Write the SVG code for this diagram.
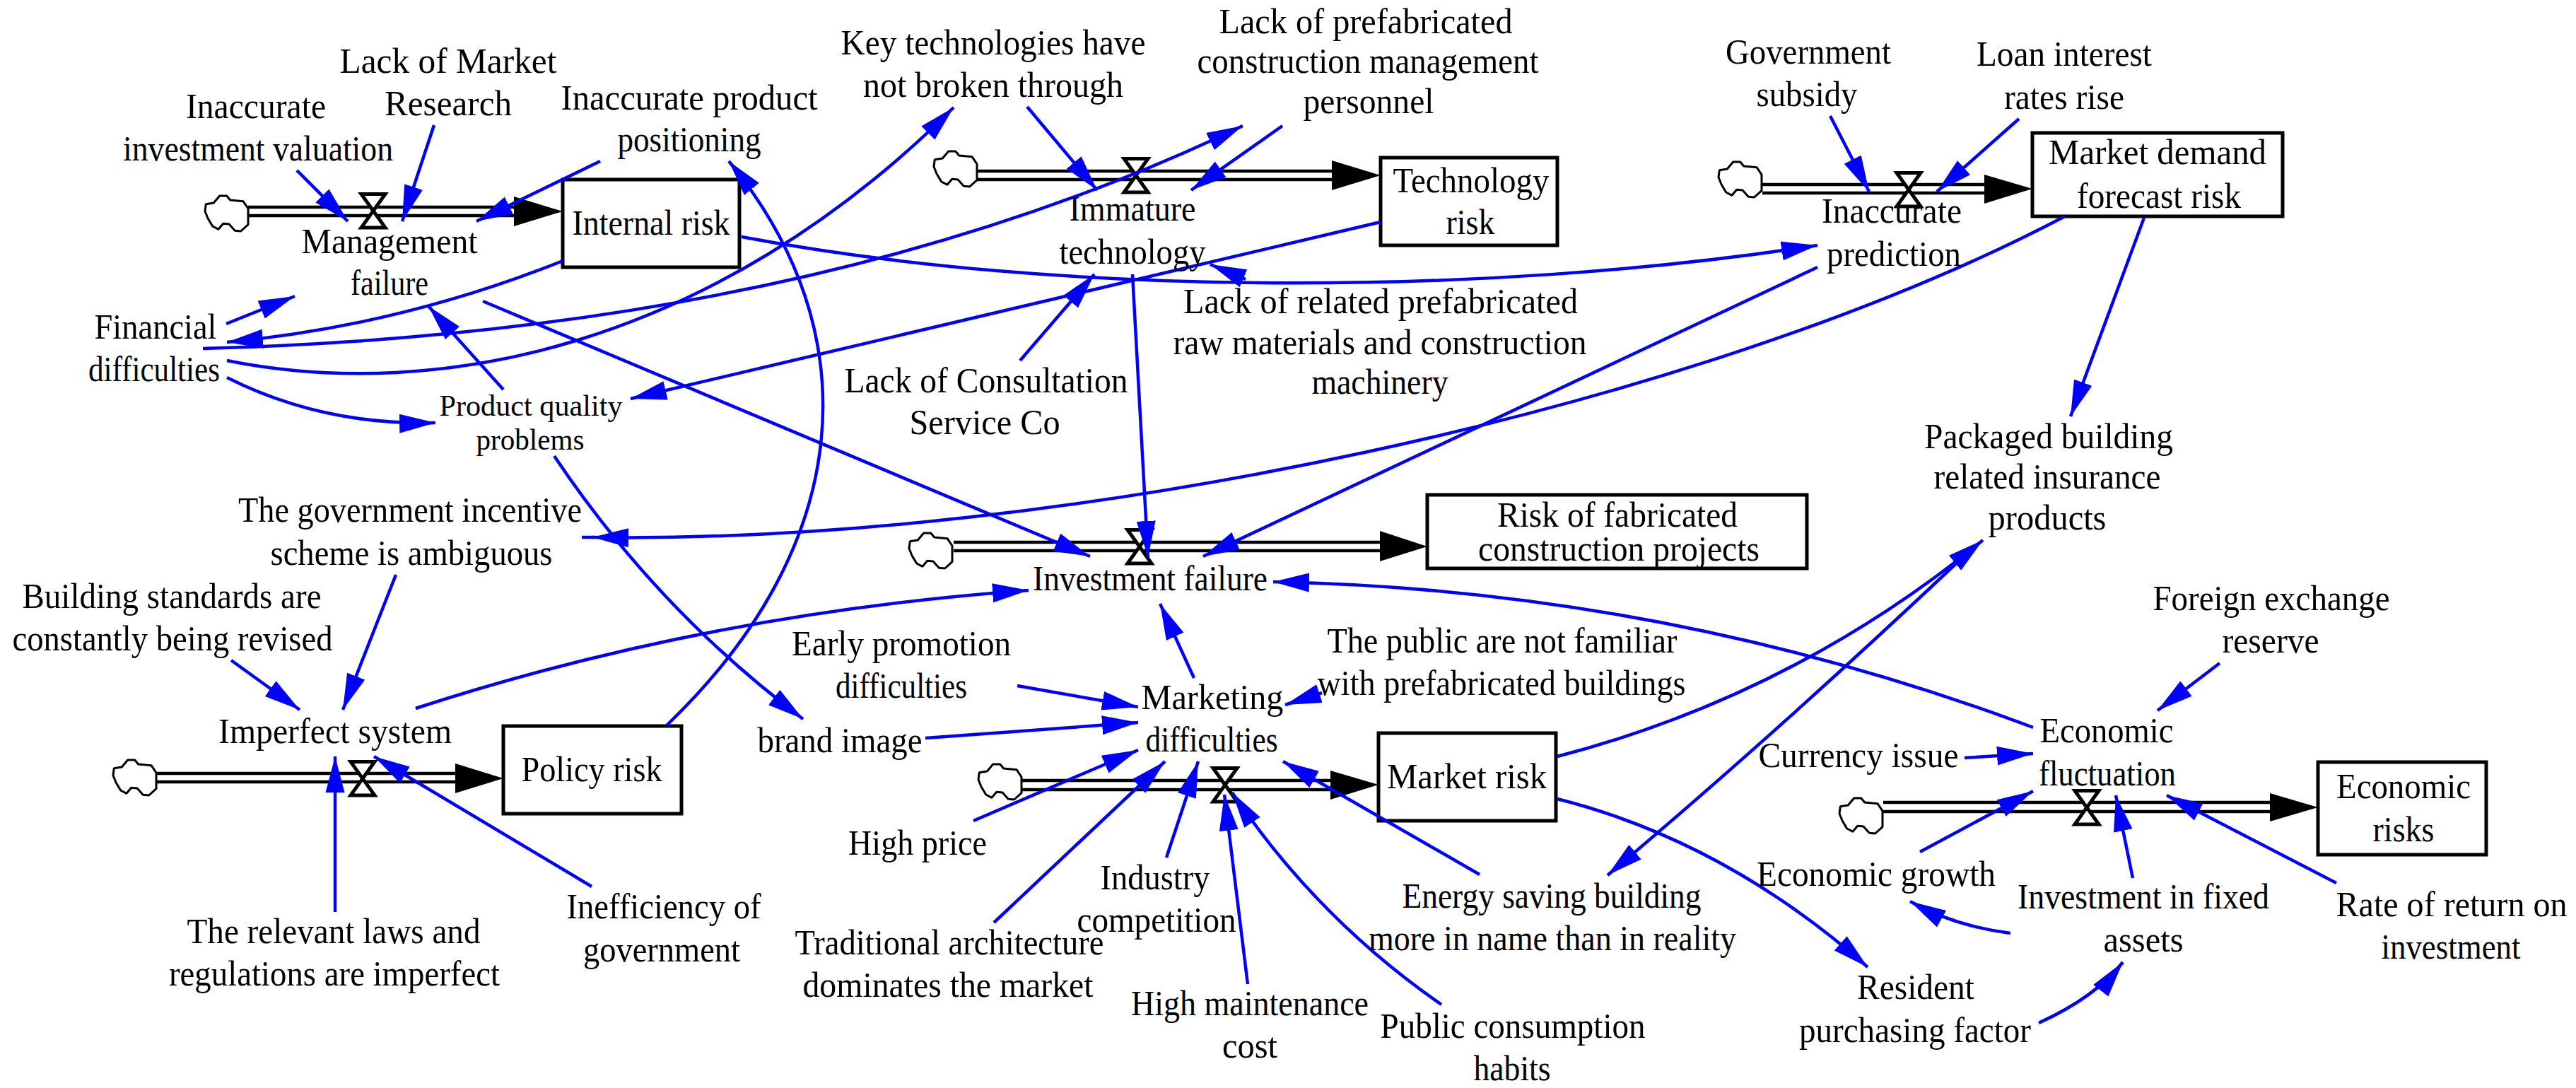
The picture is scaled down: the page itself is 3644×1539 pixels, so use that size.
<svg xmlns="http://www.w3.org/2000/svg" width="3644" height="1539" viewBox="0 0 3644 1539">
<style>
text{font-family:"Liberation Serif","Times New Roman",serif;font-size:50px;fill:#000;text-anchor:middle}
.sm{font-size:42px}
.box{fill:#fff;stroke:#000;stroke-width:5}
.pipe{fill:none;stroke:#000;stroke-width:4.5}
.cloud{fill:#fff;stroke:#000;stroke-width:3;stroke-linejoin:bevel}
.valve{fill:#fff;stroke:#000;stroke-width:5}
.c{fill:none;stroke:#0000ff;stroke-width:4.5;marker-end:url(#ah)}
.s{fill:none;stroke:#0000ff;stroke-width:4.5}
</style>
<defs>
<marker id="ah" markerUnits="userSpaceOnUse" markerWidth="52" markerHeight="30" refX="51" refY="15" orient="auto" viewBox="0 0 52 30"><path d="M0,1.5 L51,15 L0,28.5 Z" fill="#0000ff"/></marker>
<path id="cl" d="M20.7,0 L30.7,0 L35.7,6 L54,7.7 L61,18 L61,40.7 L50.7,50 L42.3,49.3 L34,40 L25.7,39.3 L19,47.3 L10.7,43 L4,31.7 L0,21.7 L1.3,11.7 L12.3,10 Z"/>
<path id="vl" d="M3,2.5 L37,2.5 L3,50 L37,50 Z"/>
</defs>
<rect width="3644" height="1539" fill="#fff"/>

<g id="flows">
<g id="flow-internal"><use href="#cl" class="cloud" x="290" y="277"/><path class="pipe" d="M351,293H730M351,305H730"/><use href="#vl" class="valve" x="508" y="272"/><path d="M727,278L796,299L727,320Z"/></g>
<g id="flow-technology"><use href="#cl" class="cloud" x="1321" y="214"/><path class="pipe" d="M1382,242H1888M1382,254H1888"/><use href="#vl" class="valve" x="1587" y="222"/><path d="M1884,227L1953,248L1884,269Z"/></g>
<g id="flow-demand"><use href="#cl" class="cloud" x="2431" y="229"/><path class="pipe" d="M2493,261H2810M2493,273H2810"/><use href="#vl" class="valve" x="2680" y="242"/><path d="M2807,247L2875,267L2807,288Z"/></g>
<g id="flow-project"><use href="#cl" class="cloud" x="1286" y="754"/><path class="pipe" d="M1349,767H1955M1349,779H1955"/><use href="#vl" class="valve" x="1592" y="747"/><path d="M1952,751L2019,773L1952,794Z"/></g>
<g id="flow-policy"><use href="#cl" class="cloud" x="160" y="1075"/><path class="pipe" d="M222,1094H648M222,1106H648"/><use href="#vl" class="valve" x="493" y="1075"/><path d="M644,1080L712,1101L644,1122Z"/></g>
<g id="flow-market"><use href="#cl" class="cloud" x="1384" y="1081"/><path class="pipe" d="M1446,1104H1885M1446,1117H1885"/><use href="#vl" class="valve" x="1713" y="1084"/><path d="M1882,1090L1950,1110L1882,1131Z"/></g>
<g id="flow-economic"><use href="#cl" class="cloud" x="2602" y="1129"/><path class="pipe" d="M2664,1135H3215M2664,1148H3215"/><use href="#vl" class="valve" x="2932" y="1116"/><path d="M3211,1122L3279,1142L3211,1162Z"/></g>
</g>

<g id="stocks">
<g id="internal-risk"><rect class="box" x="796" y="254" width="250" height="124"/></g>
<g id="technology-risk"><rect class="box" x="1953" y="223" width="250" height="124"/></g>
<g id="demand-risk"><rect class="box" x="2875" y="188" width="354" height="118"/></g>
<g id="project-risk"><rect class="box" x="2019" y="700" width="537" height="104"/></g>
<g id="policy-risk"><rect class="box" x="712" y="1027" width="252" height="124"/></g>
<g id="market-risk"><rect class="box" x="1950" y="1037" width="251" height="124"/></g>
<g id="economic-risk"><rect class="box" x="3279" y="1078" width="238" height="131"/></g>
</g>

<g id="connectors">
<path class="c" d="M420,241L492,313"/>
<path class="c" d="M614,177L569,313"/>
<path class="c" d="M849,228L674,313"/>
<path class="c" d="M796,369Q566,461 321,484"/>
<path class="c" d="M287,493Q1150,470 1758,178"/>
<path class="c" d="M321,510C620,570 1010,490 1349,152"/>
<path class="c" d="M320,458L417,419"/>
<path class="c" d="M321,534Q456,602 616,598"/>
<path class="c" d="M712,551L606,433"/>
<path class="c" d="M683,426L1542,787"/>
<path class="c" d="M784,645Q930,863 1136,1017"/>
<path class="c" d="M943,1026C1210,770 1230,470 1031,228"/>
<path class="c" d="M1049,335C1500,420 2100,420 2571,347"/>
<path class="c" d="M1953,314L892,564"/>
<path class="c" d="M1602,388L1624,788"/>
<path class="c" d="M1453,151L1552,269"/>
<path class="c" d="M1814,178L1685,269"/>
<path class="c" d="M1762,395L1712,374"/>
<path class="c" d="M1443,510L1548,388"/>
<path class="c" d="M2589,164L2644,271"/>
<path class="c" d="M2856,168L2740,271"/>
<path class="c" d="M2921,306C2400,580 1500,770 838,760"/>
<path class="s" d="M840,760H823"/>
<path class="c" d="M3033,308L2929,589"/>
<path class="c" d="M2571,378L1702,787"/>
<path class="c" d="M588,1002Q1000,868 1455,835"/>
<path class="c" d="M327,934L424,1004"/>
<path class="c" d="M560,813L485,1004"/>
<path class="c" d="M474,1290L474,1070"/>
<path class="c" d="M837,1254L529,1070"/>
<path class="c" d="M1689,959L1641,854"/>
<path class="c" d="M1439,970L1610,1000"/>
<path class="c" d="M1309,1044L1610,1022"/>
<path class="c" d="M1377,1161L1610,1061"/>
<path class="c" d="M1406,1305L1648,1077"/>
<path class="c" d="M1650,1213L1695,1077"/>
<path class="c" d="M1765,1392L1732,1124"/>
<path class="c" d="M2039,1421Q1863,1299 1743,1121"/>
<path class="c" d="M1870,980L1818,997"/>
<path class="c" d="M2093,1237L1815,1077"/>
<path class="c" d="M2203,1070Q2537,983 2805,764"/>
<path class="c" d="M2780,785Q2510,1040 2274,1238"/>
<path class="c" d="M2203,1130Q2440,1190 2642,1368"/>
<path class="c" d="M2779,1072L2876,1066"/>
<path class="c" d="M3140,938L3052,1005"/>
<path class="c" d="M2876,1029Q2356,834 1801,823"/>
<path class="c" d="M2716,1205L2876,1119"/>
<path class="c" d="M3017,1242L2993,1125"/>
<path class="c" d="M3305,1249L3065,1125"/>
<path class="c" d="M2844,1320Q2765,1310 2702,1275"/>
<path class="c" d="M2884,1447Q2965,1410 3003,1361"/>
</g>

<g id="labels">
<g id="n-lack-market"><text x="634" y="103" textLength="307" lengthAdjust="spacingAndGlyphs">Lack of Market</text><text x="634" y="163" textLength="180" lengthAdjust="spacingAndGlyphs">Research</text></g>
<g id="n-inv-val"><text x="362" y="167" textLength="198" lengthAdjust="spacingAndGlyphs">Inaccurate</text><text x="365" y="227" textLength="382" lengthAdjust="spacingAndGlyphs">investment valuation</text></g>
<g id="n-positioning"><text x="975" y="155" textLength="363" lengthAdjust="spacingAndGlyphs">Inaccurate product</text><text x="975" y="214" textLength="203" lengthAdjust="spacingAndGlyphs">positioning</text></g>
<g id="n-internal"><text x="921" y="332" textLength="223" lengthAdjust="spacingAndGlyphs">Internal risk</text></g>
<g id="n-management"><text x="551" y="358" textLength="249" lengthAdjust="spacingAndGlyphs">Management</text><text x="551" y="417" textLength="110" lengthAdjust="spacingAndGlyphs">failure</text></g>
<g id="n-financial"><text x="220" y="479" textLength="173" lengthAdjust="spacingAndGlyphs">Financial</text><text x="218" y="539" textLength="186" lengthAdjust="spacingAndGlyphs">difficulties</text></g>
<g id="n-quality"><text class="sm" x="751" y="588" textLength="259" lengthAdjust="spacingAndGlyphs">Product quality</text><text class="sm" x="750" y="636" textLength="153" lengthAdjust="spacingAndGlyphs">problems</text></g>
<g id="n-incentive"><text x="580" y="738" textLength="486" lengthAdjust="spacingAndGlyphs">The government incentive</text><text x="582" y="799" textLength="399" lengthAdjust="spacingAndGlyphs">scheme is ambiguous</text></g>
<g id="n-standards"><text x="243" y="860" textLength="423" lengthAdjust="spacingAndGlyphs">Building standards are</text><text x="244" y="920" textLength="453" lengthAdjust="spacingAndGlyphs">constantly being revised</text></g>
<g id="n-imperfect"><text x="474" y="1051" textLength="330" lengthAdjust="spacingAndGlyphs">Imperfect system</text></g>
<g id="n-policy"><text x="837" y="1105" textLength="199" lengthAdjust="spacingAndGlyphs">Policy risk</text></g>
<g id="n-laws"><text x="472" y="1334" textLength="415" lengthAdjust="spacingAndGlyphs">The relevant laws and</text><text x="473" y="1394" textLength="468" lengthAdjust="spacingAndGlyphs">regulations are imperfect</text></g>
<g id="n-inefficiency"><text x="939" y="1299" textLength="275" lengthAdjust="spacingAndGlyphs">Inefficiency of</text><text x="936" y="1360" textLength="222" lengthAdjust="spacingAndGlyphs">government</text></g>
<g id="n-brand"><text x="1188" y="1064" textLength="233" lengthAdjust="spacingAndGlyphs">brand image</text></g>
<g id="n-investment"><text x="1627" y="835" textLength="332" lengthAdjust="spacingAndGlyphs">Investment failure</text></g>
<g id="n-early"><text x="1275" y="927" textLength="310" lengthAdjust="spacingAndGlyphs">Early promotion</text><text x="1275" y="987" textLength="186" lengthAdjust="spacingAndGlyphs">difficulties</text></g>
<g id="n-marketing"><text x="1715" y="1003" textLength="201" lengthAdjust="spacingAndGlyphs">Marketing</text><text x="1714" y="1063" textLength="187" lengthAdjust="spacingAndGlyphs">difficulties</text></g>
<g id="n-public"><text x="2125" y="923" textLength="495" lengthAdjust="spacingAndGlyphs">The public are not familiar</text><text x="2124" y="983" textLength="521" lengthAdjust="spacingAndGlyphs">with prefabricated buildings</text></g>
<g id="n-market"><text x="2075" y="1115" textLength="226" lengthAdjust="spacingAndGlyphs">Market risk</text></g>
<g id="n-price"><text x="1298" y="1209" textLength="196" lengthAdjust="spacingAndGlyphs">High price</text></g>
<g id="n-industry"><text x="1634" y="1258" textLength="155" lengthAdjust="spacingAndGlyphs">Industry</text><text x="1636" y="1318" textLength="225" lengthAdjust="spacingAndGlyphs">competition</text></g>
<g id="n-traditional"><text x="1343" y="1350" textLength="437" lengthAdjust="spacingAndGlyphs">Traditional architecture</text><text x="1341" y="1410" textLength="411" lengthAdjust="spacingAndGlyphs">dominates the market</text></g>
<g id="n-maintenance"><text x="1768" y="1436" textLength="336" lengthAdjust="spacingAndGlyphs">High maintenance</text><text x="1768" y="1496" textLength="78" lengthAdjust="spacingAndGlyphs">cost</text></g>
<g id="n-habits"><text x="2140" y="1468" textLength="375" lengthAdjust="spacingAndGlyphs">Public consumption</text><text x="2139" y="1528" textLength="109" lengthAdjust="spacingAndGlyphs">habits</text></g>
<g id="n-energy"><text x="2195" y="1284" textLength="423" lengthAdjust="spacingAndGlyphs">Energy saving building</text><text x="2196" y="1344" textLength="520" lengthAdjust="spacingAndGlyphs">more in name than in reality</text></g>
<g id="n-foreign"><text x="3213" y="863" textLength="335" lengthAdjust="spacingAndGlyphs">Foreign exchange</text><text x="3212" y="923" textLength="137" lengthAdjust="spacingAndGlyphs">reserve</text></g>
<g id="n-fluct"><text x="2980" y="1050" textLength="189" lengthAdjust="spacingAndGlyphs">Economic</text><text x="2981" y="1111" textLength="194" lengthAdjust="spacingAndGlyphs">fluctuation</text></g>
<g id="n-currency"><text x="2629" y="1085" textLength="283" lengthAdjust="spacingAndGlyphs">Currency issue</text></g>
<g id="n-growth"><text x="2654" y="1253" textLength="338" lengthAdjust="spacingAndGlyphs">Economic growth</text></g>
<g id="n-fixed"><text x="3032" y="1285" textLength="356" lengthAdjust="spacingAndGlyphs">Investment in fixed</text><text x="3032" y="1346" textLength="113" lengthAdjust="spacingAndGlyphs">assets</text></g>
<g id="n-return"><text x="3468" y="1296" textLength="327" lengthAdjust="spacingAndGlyphs">Rate of return on</text><text x="3467" y="1356" textLength="197" lengthAdjust="spacingAndGlyphs">investment</text></g>
<g id="n-resident"><text x="2710" y="1413" textLength="166" lengthAdjust="spacingAndGlyphs">Resident</text><text x="2709" y="1474" textLength="328" lengthAdjust="spacingAndGlyphs">purchasing factor</text></g>
<g id="n-econ-risk"><text x="3400" y="1129" textLength="190" lengthAdjust="spacingAndGlyphs">Economic</text><text x="3400" y="1190" textLength="87" lengthAdjust="spacingAndGlyphs">risks</text></g>
<g id="n-insurance"><text x="2898" y="634" textLength="352" lengthAdjust="spacingAndGlyphs">Packaged building</text><text x="2896" y="691" textLength="321" lengthAdjust="spacingAndGlyphs">related insurance</text><text x="2896" y="749" textLength="167" lengthAdjust="spacingAndGlyphs">products</text></g>
<g id="n-subsidy"><text x="2558" y="90" textLength="234" lengthAdjust="spacingAndGlyphs">Government</text><text x="2556" y="150" textLength="143" lengthAdjust="spacingAndGlyphs">subsidy</text></g>
<g id="n-loan"><text x="2920" y="93" textLength="248" lengthAdjust="spacingAndGlyphs">Loan interest</text><text x="2920" y="154" textLength="170" lengthAdjust="spacingAndGlyphs">rates rise</text></g>
<g id="n-demand"><text x="3052" y="232" textLength="308" lengthAdjust="spacingAndGlyphs">Market demand</text><text x="3054" y="294" textLength="232" lengthAdjust="spacingAndGlyphs">forecast risk</text></g>
<g id="n-prediction"><text x="2676" y="315" textLength="198" lengthAdjust="spacingAndGlyphs">Inaccurate</text><text x="2679" y="376" textLength="190" lengthAdjust="spacingAndGlyphs">prediction</text></g>
<g id="n-key"><text x="1405" y="77" textLength="431" lengthAdjust="spacingAndGlyphs">Key technologies have</text><text x="1405" y="137" textLength="368" lengthAdjust="spacingAndGlyphs">not broken through</text></g>
<g id="n-personnel"><text x="1932" y="47" textLength="415" lengthAdjust="spacingAndGlyphs">Lack of prefabricated</text><text x="1935" y="103" textLength="483" lengthAdjust="spacingAndGlyphs">construction management</text><text x="1936" y="160" textLength="185" lengthAdjust="spacingAndGlyphs">personnel</text></g>
<g id="n-tech"><text x="2081" y="272" textLength="221" lengthAdjust="spacingAndGlyphs">Technology</text><text x="2080" y="331" textLength="69" lengthAdjust="spacingAndGlyphs">risk</text></g>
<g id="n-immature"><text x="1602" y="312" textLength="179" lengthAdjust="spacingAndGlyphs">Immature</text><text x="1602" y="373" textLength="207" lengthAdjust="spacingAndGlyphs">technology</text></g>
<g id="n-raw"><text x="1953" y="443" textLength="558" lengthAdjust="spacingAndGlyphs">Lack of related prefabricated</text><text x="1952" y="501" textLength="585" lengthAdjust="spacingAndGlyphs">raw materials and construction</text><text x="1952" y="557" textLength="193" lengthAdjust="spacingAndGlyphs">machinery</text></g>
<g id="n-consult"><text x="1395" y="555" textLength="401" lengthAdjust="spacingAndGlyphs">Lack of Consultation</text><text x="1393" y="614" textLength="213" lengthAdjust="spacingAndGlyphs">Service Co</text></g>
<g id="n-project"><text x="2288" y="745" textLength="340" lengthAdjust="spacingAndGlyphs">Risk of fabricated</text><text x="2290" y="793" textLength="398" lengthAdjust="spacingAndGlyphs">construction projects</text></g>
</g>
</svg>
